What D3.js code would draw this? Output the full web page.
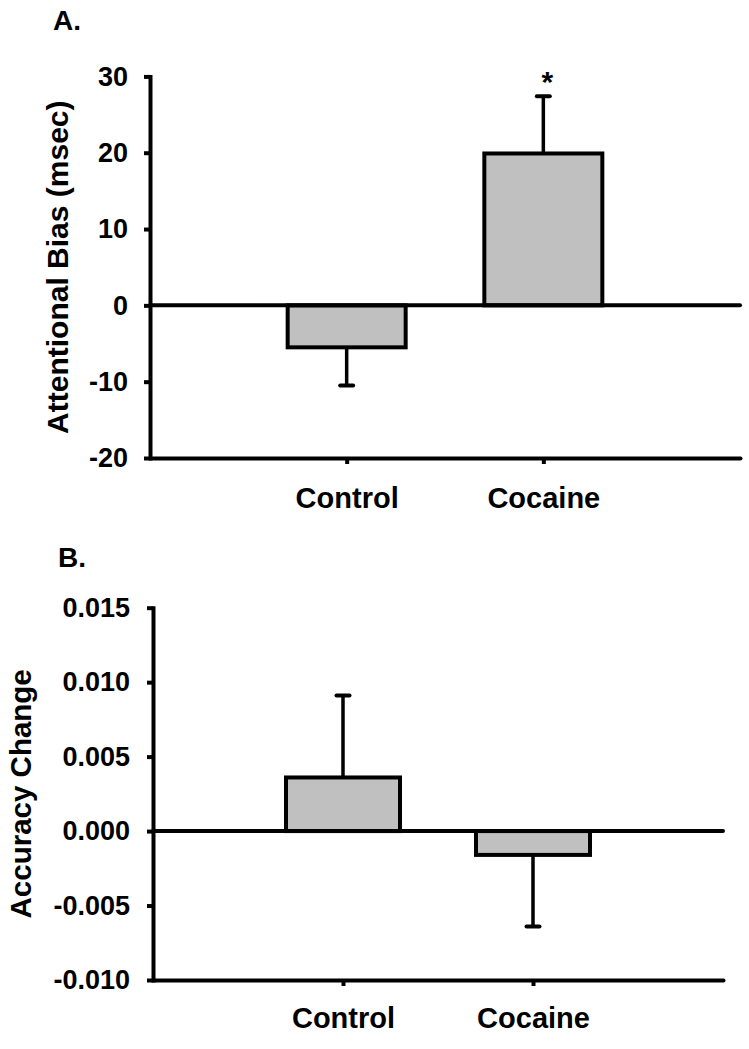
<!DOCTYPE html>
<html><head><meta charset="utf-8">
<script src="https://cdn.jsdelivr.net/npm/d3@7"></script>
<style>
body{margin:0;background:#fff;}
svg{display:block;}
text{font-family:"Liberation Sans",Arial,sans-serif;font-weight:bold;fill:#000;}
</style></head>
<body>
<svg id="chart" width="749" height="1049"></svg>
<script>
const categories = ["Control","Cocaine"];
// Panel A
const biasMeans = [-5.5, 19.9];
const biasErrors = [5.0, 7.5];
const biasTicks = [-20,-10,0,10,20,30];
const biasSig = ["", "*"];
// Panel B
const accMeans = [0.0036, -0.0016];
const accErrors = [0.0055, 0.0048];
const accTicks = [-0.010,-0.005,0.000,0.005,0.010,0.015];

const svg = d3.select("#chart");
const hyph = f => v => f(v).replace("\u2212","-");

function panel(cfg){
  const g = svg.append("g");
  const x = d3.scalePoint().domain(categories).range([cfg.x0, cfg.x1]).padding(1);
  const y = d3.scaleLinear().domain(cfg.domain).range([cfg.y1, cfg.y0]);
  const bw = x.step()*0.6;
  const sw = 4;

  g.append("text").attr("x", cfg.letterX).attr("y", cfg.letterY)
    .style("font-size","28px").text(cfg.letter);

  g.append("text")
    .attr("transform", `translate(${cfg.titleX},${(cfg.y0+cfg.y1)/2}) rotate(-90)`)
    .attr("text-anchor","middle").style("font-size", cfg.titleSize+"px").text(cfg.title);

  g.selectAll("rect.bar").data(cfg.means).join("rect")
    .attr("x",(d,i)=>x(categories[i])-bw/2)
    .attr("width",bw)
    .attr("y",d=>Math.min(y(d),y(0)))
    .attr("height",d=>Math.abs(y(d)-y(0)))
    .attr("fill","#c0c0c0").attr("stroke","#000").attr("stroke-width",sw);

  const eg = g.selectAll("g.err").data(cfg.means).join("g");
  eg.append("line")
    .attr("x1",(d,i)=>x(categories[i])).attr("x2",(d,i)=>x(categories[i]))
    .attr("y1",d=>y(d))
    .attr("y2",(d,i)=>y(d + Math.sign(d)*cfg.errors[i]))
    .attr("stroke","#000").attr("stroke-width",3.5);
  eg.append("line")
    .attr("x1",(d,i)=>x(categories[i])-6.5).attr("x2",(d,i)=>x(categories[i])+6.5)
    .attr("y1",(d,i)=>y(d + Math.sign(d)*cfg.errors[i]))
    .attr("y2",(d,i)=>y(d + Math.sign(d)*cfg.errors[i]))
    .attr("stroke","#000").attr("stroke-width",4).attr("stroke-linecap","round");

  if (cfg.sig){
    g.selectAll("text.sig").data(cfg.means).join("text")
      .attr("x",(d,i)=>x(categories[i])+4)
      .attr("y",(d,i)=>y(d + cfg.errors[i]) - 4)
      .attr("text-anchor","middle").style("font-size","30px")
      .text((d,i)=>cfg.sig[i]);
  }

  g.append("line").attr("x1",cfg.x0).attr("x2",cfg.x1)
    .attr("y1",y(0)).attr("y2",y(0))
    .attr("stroke","#000").attr("stroke-width",sw).attr("stroke-linecap","round");

  const ya = g.append("g").attr("transform",`translate(${cfg.x0},0)`)
    .call(d3.axisLeft(y).tickValues(cfg.ticks).tickFormat(hyph(cfg.fmt)).tickSize(6).tickSizeOuter(0).tickPadding(cfg.tickPad));
  ya.select(".domain").attr("stroke-width",sw).attr("stroke-linecap","square");
  ya.selectAll(".tick line").attr("stroke-width",sw);
  ya.selectAll(".tick text").style("font-size","27px")
    .style("font-family",'"Liberation Sans",Arial,sans-serif').style("font-weight","bold");

  const xa = g.append("g").attr("transform",`translate(0,${cfg.y1})`)
    .call(d3.axisBottom(x).tickSize(6).tickSizeOuter(0).tickPadding(cfg.catPad));
  xa.select(".domain").attr("stroke-width",sw).attr("stroke-linecap","round");
  xa.selectAll(".tick line").attr("stroke-width",sw);
  xa.selectAll(".tick text").style("font-size","29px")
    .style("font-family",'"Liberation Sans",Arial,sans-serif').style("font-weight","bold");
}

panel({
  x0:150, x1:740, y0:76.4, y1:458, domain:[-20,30],
  means:biasMeans, errors:biasErrors, ticks:biasTicks, fmt:d3.format("d"),
  sig:biasSig, letter:"A.", letterX:53, letterY:30,
  title:"Attentional Bias (msec)", titleX:68, titleSize:30, tickPad:16, catPad:23
});
panel({
  x0:153, x1:723, y0:607.7, y1:980, domain:[-0.010,0.015],
  means:accMeans, errors:accErrors, ticks:accTicks, fmt:d3.format(".3f"),
  sig:null, letter:"B.", letterX:58, letterY:567,
  title:"Accuracy Change", titleX:31, titleSize:29.5, tickPad:17, catPad:21
});
</script>
</body></html>
